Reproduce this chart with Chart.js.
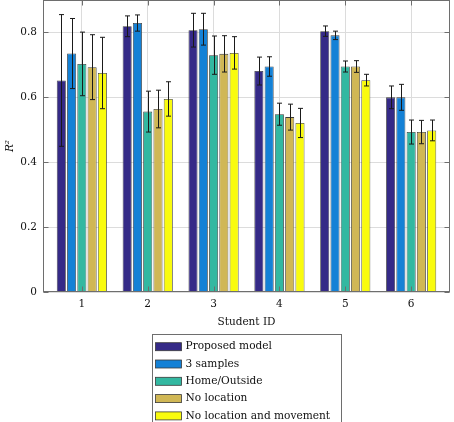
<!DOCTYPE html>
<html>
<head>
<meta charset="utf-8">
<script src="https://cdn.jsdelivr.net/npm/chart.js@4/dist/chart.umd.min.js"></script>
<style>
html,body{margin:0;padding:0;background:#fff;}
canvas{display:block;}
</style>
</head>
<body>
<canvas id="c" width="454" height="422"></canvas>
<script>
// ---- data ----
const studentIds = [1, 2, 3, 4, 5, 6];
const seriesNames = ['Proposed model', '3 samples', 'Home/Outside', 'No location', 'No location and movement'];
const proposed      = [0.652, 0.819, 0.807, 0.681, 0.804, 0.600];
const proposedErr   = [0.203, 0.032, 0.052, 0.043, 0.016, 0.035];
const threeSamples  = [0.735, 0.829, 0.810, 0.695, 0.791, 0.600];
const threeErr      = [0.108, 0.025, 0.049, 0.030, 0.013, 0.040];
const homeOutside   = [0.703, 0.556, 0.730, 0.548, 0.695, 0.493];
const homeErr       = [0.098, 0.063, 0.059, 0.034, 0.017, 0.037];
const noLocation    = [0.693, 0.564, 0.734, 0.539, 0.695, 0.493];
const noLocErr      = [0.100, 0.058, 0.056, 0.040, 0.018, 0.036];
const noLocMove     = [0.675, 0.595, 0.737, 0.521, 0.653, 0.498];
const noLocMoveErr  = [0.110, 0.053, 0.050, 0.045, 0.018, 0.032];
const yTicks = [0, 0.2, 0.4, 0.6, 0.8];

const values = [proposed, threeSamples, homeOutside, noLocation, noLocMove];
const errors = [proposedErr, threeErr, homeErr, noLocErr, noLocMoveErr];
const colors = ['#352A87', '#1481D6', '#33B8A1', '#D0B755', '#F9FB0E'];

const FONT = '"DejaVu Serif", serif';
const FS = 10.5;

const datasets = seriesNames.map((name, i) => ({
  label: name,
  data: studentIds.map((id, j) => ({x: id, y: values[i][j]})),
  errors: errors[i],
  backgroundColor: colors[i],
  borderColor: '#3a3a3a',
  borderWidth: 0.8,
  categoryPercentage: 0.78,
  barPercentage: 0.88
}));

const errorBars = {
  id: 'errorBars',
  afterDatasetsDraw(chart) {
    const ctx = chart.ctx;
    const ys = chart.scales.y;
    ctx.save();
    ctx.strokeStyle = '#1a1a1a';
    ctx.lineWidth = 1;
    chart.data.datasets.forEach((ds, i) => {
      const meta = chart.getDatasetMeta(i);
      meta.data.forEach((el, j) => {
        const v = ds.data[j].y, e = ds.errors[j];
        const x = Math.round(el.x) + 0.5;
        const yt = ys.getPixelForValue(v + e), yb = ys.getPixelForValue(v - e);
        ctx.beginPath();
        ctx.moveTo(x, yt); ctx.lineTo(x, yb);
        ctx.moveTo(x - 2.5, yt); ctx.lineTo(x + 2.5, yt);
        ctx.moveTo(x - 2.5, yb); ctx.lineTo(x + 2.5, yb);
        ctx.stroke();
      });
    });
    ctx.restore();
  }
};

const frame = {
  id: 'frame',
  afterDraw(chart) {
    const ctx = chart.ctx;
    const a = chart.chartArea;
    const xs = chart.scales.x, ys = chart.scales.y;
    ctx.save();
    ctx.strokeStyle = '#6e6e6e';
    ctx.lineWidth = 1;
    const L = Math.round(a.left) + 0.5, R = Math.round(a.right) - 0.5;
    const T = Math.round(a.top) + 0.5, B = Math.round(a.bottom) - 0.5;
    ctx.strokeRect(L, T, R - L, B - T);
    ctx.beginPath();
    yTicks.forEach(v => {
      const y = Math.round(ys.getPixelForValue(v)) + 0.5;
      ctx.moveTo(L, y); ctx.lineTo(L + 5, y);
      ctx.moveTo(R, y); ctx.lineTo(R - 5, y);
    });
    studentIds.forEach(id => {
      const x = Math.round(xs.getPixelForValue(id)) + 0.5;
      ctx.moveTo(x, B); ctx.lineTo(x, B - 5);
      ctx.moveTo(x, T); ctx.lineTo(x, T + 5);
    });
    ctx.stroke();

    // legend
    const lx = 152.5, ly = 334.5, lw = 189, lh = 92;
    ctx.fillStyle = '#fff';
    ctx.fillRect(lx, ly, lw, lh);
    ctx.strokeStyle = '#6e6e6e';
    ctx.strokeRect(lx, ly, lw, lh);
    ctx.font = '10.6px ' + FONT;
    ctx.textBaseline = 'middle';
    ctx.textAlign = 'left';
    seriesNames.forEach((name, i) => {
      const cy = 346.7 + i * 17.3;
      ctx.fillStyle = colors[i];
      ctx.fillRect(155.5, cy - 4, 26, 8);
      ctx.strokeStyle = '#3a3a3a';
      ctx.lineWidth = 0.8;
      ctx.strokeRect(155.5, cy - 4, 26, 8);
      ctx.fillStyle = '#111';
      ctx.fillText(name, 185.5, cy);
    });
    ctx.restore();
  }
};

new Chart(document.getElementById('c'), {
  type: 'bar',
  data: { datasets },
  options: {
    responsive: false,
    animation: false,
    devicePixelRatio: 1,
    layout: { padding: { top: 0, right: 4, bottom: 93, left: 0 } },
    plugins: { legend: { display: false }, tooltip: { enabled: false } },
    scales: {
      x: {
        type: 'linear',
        min: 0.41, max: 6.59,
        offset: false,
        grid: { color: '#dcdcdc', drawTicks: false, offset: false },
        border: { display: false },
        ticks: { stepSize: 1, includeBounds: false, padding: 6, color: '#111', font: { family: FONT, size: FS },
                 callback: v => String(v) },
        title: { display: true, text: 'Student ID', color: '#111', font: { family: FONT, size: FS }, padding: 0 },
        afterFit(s) { s.height = 37; s.paddingLeft = 0; s.paddingRight = 0; }
      },
      y: {
        min: 0, max: 0.9,
        grid: { color: '#dcdcdc', drawTicks: false },
        border: { display: false },
        ticks: { stepSize: 0.2, includeBounds: false, padding: 6, color: '#111', font: { family: FONT, size: FS },
                 callback: v => (Math.abs(v) < 1e-9 ? '0' : v.toFixed(1)) },
        title: { display: true, text: 'R²', color: '#111', font: { family: FONT, size: FS, style: 'italic' }, padding: { top: 4, bottom: 0 } },
        afterFit(s) { s.width = 43; s.paddingTop = 0; s.paddingBottom = 0; }
      }
    }
  },
  plugins: [errorBars, frame]
});
</script>
</body>
</html>
